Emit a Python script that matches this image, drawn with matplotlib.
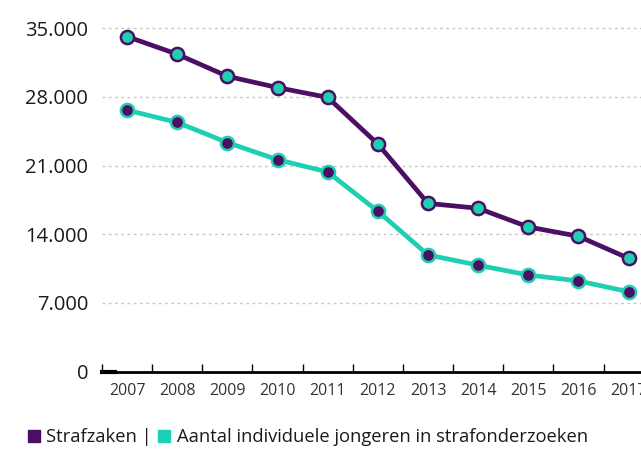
import matplotlib.pyplot as plt
from matplotlib.lines import Line2D
from matplotlib.ticker import FixedLocator, FuncFormatter

plt.rcParams['font.family'] = ['Open Sans', 'DejaVu Sans']

# data
jaren = ['2007', '2008', '2009', '2010', '2011', '2012', '2013', '2014', '2015', '2016', '2017']
strafzaken = [34150, 32350, 30100, 28950, 27950, 23200, 17150, 16650, 14750, 13800, 11550]
jongeren = [26650, 25400, 23350, 21600, 20350, 16350, 11900, 10850, 9850, 9250, 8150]
y_ticks = [0, 7000, 14000, 21000, 28000, 35000]

paars = '#4b0f64'
turkoois = '#1fcfb1'

fig = plt.figure(figsize=(6.41, 4.49), dpi=100)
ax = fig.add_axes([102 / 641, 77.3 / 449, 551.7 / 641, 361.7 / 449])

x = list(range(len(jaren)))
ax.plot(x, strafzaken, color=paars, lw=3.4, marker='o', ms=9.5,
        mfc=turkoois, mec=paars, mew=1.8, zorder=3, clip_on=False)
ax.plot(x, jongeren, color=turkoois, lw=3.4, marker='o', ms=9.5,
        mfc=paars, mec=turkoois, mew=1.8, zorder=3, clip_on=False)

ax.set_xlim(-0.5, len(jaren) - 0.5)
ax.set_ylim(0, 35000 * 361.7 / 343.5)

# gridlines
for t in y_ticks[1:]:
    ax.axhline(t, color='#c8c8c8', lw=1, ls=(0, (2, 2.5)), zorder=1)
ax.plot([-0.5, -0.25], [0, 0], color='black', lw=3, zorder=2, clip_on=False)

ax.set_yticks(y_ticks)
ax.yaxis.set_major_formatter(FuncFormatter(lambda v, p: f'{int(v):,}'.replace(',', '.')))
ax.tick_params(axis='y', length=0, pad=10, labelsize=14.5, labelcolor='#1a1a1a')

ax.xaxis.set_major_locator(FixedLocator([i - 0.5 for i in range(len(jaren) + 1)]))
ax.xaxis.set_minor_locator(FixedLocator(x))
ax.set_xticklabels([])
ax.set_xticklabels(jaren, minor=True)
ax.tick_params(axis='x', which='major', direction='in', length=6, width=1, color='black')
ax.tick_params(axis='x', which='minor', length=0, pad=8, labelsize=11.5, labelcolor='#333333')

for s in ['top', 'right', 'left']:
    ax.spines[s].set_visible(False)
ax.spines['bottom'].set_linewidth(2)
ax.spines['bottom'].set_color('black')

handles = [Line2D([], [], ls='none', marker='s', ms=9, color=paars),
           Line2D([], [], ls='none', marker='s', ms=9, color=turkoois)]
fig.legend(handles, ['Strafzaken |', 'Aantal individuele jongeren in strafonderzoeken'],
           loc='center left', bbox_to_anchor=(8 / 641, 1 - 437 / 449), ncol=2,
           frameon=False, handletextpad=0.2, columnspacing=0.15, handlelength=1,
           fontsize=13.2, labelcolor='#1a1a1a')

fig.savefig('out.png', dpi=100)
